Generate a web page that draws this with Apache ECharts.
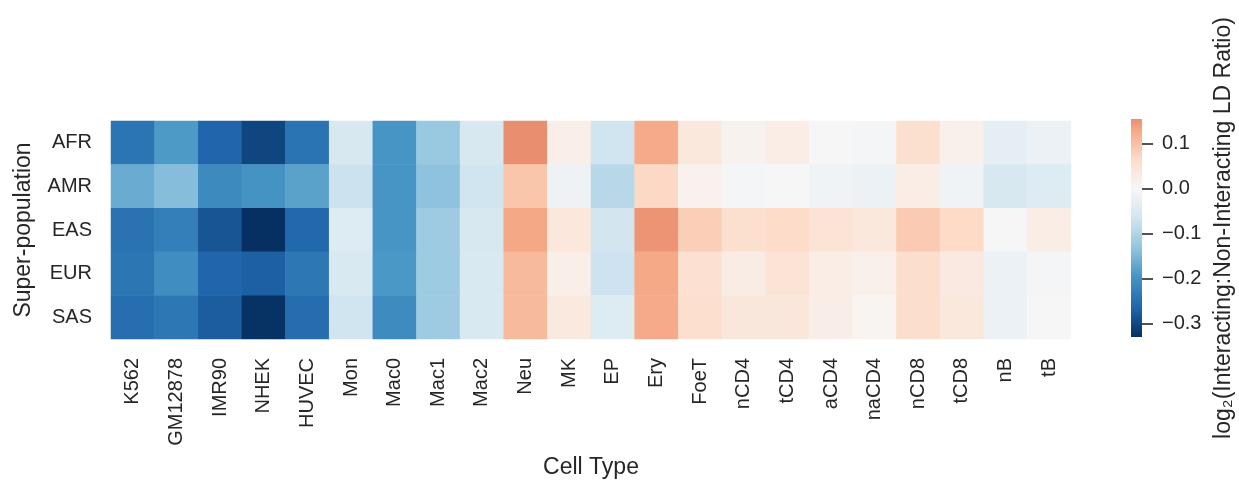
<!DOCTYPE html>
<html>
<head>
<meta charset="utf-8">
<script src="https://cdn.jsdelivr.net/npm/echarts@6/dist/echarts.min.js"></script>
<style>
html,body{margin:0;padding:0;background:#fff;}
#chart{width:1239px;height:483px;}
</style>
</head>
<body>
<div id="chart"></div>
<script>
// ---- data ----
const cellTypes = ['K562','GM12878','IMR90','NHEK','HUVEC','Mon','Mac0','Mac1','Mac2','Neu','MK','EP','Ery','FoeT','nCD4','tCD4','aCD4','naCD4','nCD8','tCD8','nB','tB'];
const superPops = ['AFR','AMR','EAS','EUR','SAS'];
const AFR = [-0.242,-0.189,-0.264,-0.303,-0.244,-0.054,-0.195,-0.125,-0.054,0.154,0.020,-0.066,0.125,0.036,0.011,0.025,0.001,-0.006,0.055,0.017,-0.033,-0.021];
const AMR = [-0.165,-0.142,-0.210,-0.198,-0.178,-0.071,-0.195,-0.136,-0.066,0.092,-0.016,-0.093,0.069,0.013,-0.007,-0.001,-0.013,-0.021,0.023,-0.013,-0.054,-0.046];
const EAS = [-0.247,-0.228,-0.284,-0.330,-0.261,-0.046,-0.195,-0.119,-0.054,0.129,0.038,-0.063,0.148,0.081,0.055,0.064,0.046,0.036,0.086,0.066,0.000,0.023];
const EUR = [-0.241,-0.205,-0.264,-0.271,-0.238,-0.053,-0.192,-0.120,-0.053,0.106,0.020,-0.069,0.127,0.051,0.026,0.046,0.023,0.017,0.059,0.032,-0.021,-0.006];
const SAS = [-0.252,-0.238,-0.276,-0.327,-0.254,-0.066,-0.209,-0.119,-0.053,0.106,0.033,-0.046,0.125,0.056,0.037,0.037,0.022,0.007,0.059,0.036,-0.020,0.000];
const colorbarTicks = [-0.3,-0.2,-0.1,0.0,0.1];

// ---- colormap (RdBu_r, centred at 0 as seaborn does) ----
const rdbu_r = ['#053061','#2166ac','#4393c3','#92c5de','#d1e5f0','#f7f7f7','#fddbc7','#f4a582','#d6604d','#b2182b','#67001f'];
function hex2rgb(h){return [parseInt(h.slice(1,3),16),parseInt(h.slice(3,5),16),parseInt(h.slice(5,7),16)];}
const stopsRgb = rdbu_r.map(hex2rgb);
function cmap(p){
  p = Math.max(0, Math.min(1, p));
  const f = p * (stopsRgb.length - 1);
  const i = Math.min(Math.floor(f), stopsRgb.length - 2);
  const t = f - i;
  const a = stopsRgb[i], b = stopsRgb[i+1];
  const c = a.map((v,k)=>Math.round(v + (b[k]-v)*t));
  return 'rgb(' + c.join(',') + ')';
}
const rowsData = [AFR, AMR, EAS, EUR, SAS];
const allVals = rowsData.flat();
const vmin = Math.min(...allVals), vmax = Math.max(...allVals);
const vrange = Math.max(-vmin, vmax);
const colorOf = v => cmap(0.5 + v / (2 * vrange));
const N = 128;
const rampColors = [];
for (let i = 0; i < N; i++) rampColors.push(colorOf(vmin + (vmax - vmin) * i / (N - 1)));

const heatData = [];
rowsData.forEach((row, r) => row.forEach((v, c) => heatData.push([c, r, v])));

const txt = '#262626';
const font = 'Liberation Sans, Arial, sans-serif';

const chart = echarts.init(document.getElementById('chart'), null, {renderer: 'canvas'});
chart.setOption({
  animation: false,
  backgroundColor: '#fff',
  textStyle: {fontFamily: font, color: txt},
  grid: [
    {left: 111, top: 121, width: 960, height: 218},
    {left: 1131, top: 119, width: 11, height: 218}
  ],
  xAxis: [
    {
      type: 'category', gridIndex: 0, data: cellTypes,
      axisLine: {show: false}, axisTick: {show: false}, splitLine: {show: false},
      axisLabel: {rotate: 90, fontSize: 20, color: txt, margin: 19, fontFamily: font, interval: 0},
      name: 'Cell Type', nameLocation: 'middle', nameGap: 117,
      nameTextStyle: {fontSize: 23, color: txt, fontFamily: font}
    },
    {type: 'category', gridIndex: 1, data: ['cb'], show: false}
  ],
  yAxis: [
    {
      type: 'category', gridIndex: 0, data: superPops, inverse: true,
      axisLine: {show: false}, axisTick: {show: false}, splitLine: {show: false},
      axisLabel: {fontSize: 20, color: txt, margin: 19, fontFamily: font},
      name: 'Super-population', nameLocation: 'middle', nameGap: 76, nameRotate: 90,
      nameTextStyle: {fontSize: 23, color: txt, fontFamily: font}
    },
    {
      type: 'value', gridIndex: 1, min: vmin, max: vmax, position: 'right',
      axisLine: {show: false}, splitLine: {show: false},
      axisTick: {show: true, length: 11, lineStyle: {color: txt, width: 1.6}, customValues: colorbarTicks},
      axisLabel: {
        fontSize: 20, color: txt, margin: 20, fontFamily: font, customValues: colorbarTicks,
        formatter: v => (v < -1e-9 ? '\u2212' : '') + Math.abs(v).toFixed(1)
      },
      name: 'log\u2082(Interacting:Non-Interacting LD Ratio)', nameLocation: 'middle', nameGap: 70, nameRotate: 90,
      nameTextStyle: {fontSize: 23, color: txt, fontFamily: font}
    }
  ],
  visualMap: {
    type: 'continuous', show: false, min: vmin, max: vmax, dimension: 2, seriesIndex: 0,
    inRange: {color: rampColors}
  },
  series: [
    {
      type: 'heatmap', xAxisIndex: 0, yAxisIndex: 0, data: heatData,
      itemStyle: {borderWidth: 0}, emphasis: {disabled: true}
    },
    {
      type: 'custom', xAxisIndex: 1, yAxisIndex: 1, data: [[0, vmax]], silent: true,
      renderItem: function(params, api) {
        const cs = params.coordSys;
        const stops = [];
        for (let i = 0; i < N; i++) stops.push({offset: i / (N - 1), color: rampColors[N - 1 - i]});
        return {
          type: 'rect',
          shape: {x: cs.x, y: cs.y, width: cs.width, height: cs.height},
          style: {fill: new echarts.graphic.LinearGradient(0, 0, 0, 1, stops)}
        };
      }
    }
  ]
});
</script>
</body>
</html>
